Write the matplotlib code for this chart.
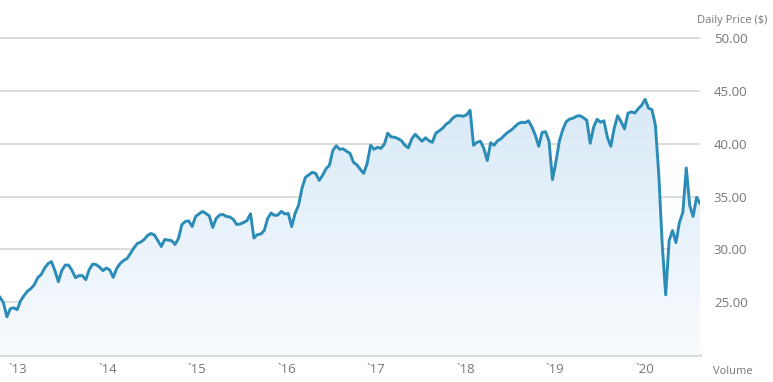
import numpy as np
import pandas as pd
import matplotlib
matplotlib.use("Agg")
import matplotlib.pyplot as plt
import matplotlib.dates as mdates
from matplotlib.ticker import FuncFormatter, FixedLocator
from matplotlib.colors import LinearSegmentedColormap

# biweekly closing prices
start_date = "2012-10-19"
freq = "14D"
prices = [
    25.46, 24.95, 23.62, 24.38, 24.47, 24.29, 25.14, 25.62, 26.04, 26.28,
    26.66, 27.32, 27.61, 28.23, 28.65, 28.84, 27.99, 26.94, 27.99, 28.51,
    28.51, 27.99, 27.32, 27.51, 27.51, 27.13, 28.08, 28.61, 28.56, 28.32,
    27.99, 28.23, 28.04, 27.35, 28.18, 28.65, 28.94, 29.13, 29.60, 30.12,
    30.55, 30.69, 30.93, 31.31, 31.50, 31.36, 30.83, 30.27, 30.93, 30.88,
    30.83, 30.46, 31.02, 32.35, 32.64, 32.69, 32.16, 33.11, 33.35, 33.59,
    33.40, 33.16, 32.07, 32.92, 33.25, 33.30, 33.11, 33.06, 32.83, 32.35,
    32.40, 32.54, 32.73, 33.37, 31.07, 31.40, 31.45, 31.78, 32.92, 33.44,
    33.21, 33.25, 33.59, 33.35, 33.40, 32.16, 33.40, 34.16, 35.77, 36.81,
    37.05, 37.29, 37.19, 36.53, 37.00, 37.62, 37.95, 39.37, 39.80, 39.47,
    39.52, 39.28, 39.09, 38.24, 38.00, 37.57, 37.19, 38.14, 39.85, 39.47,
    39.66, 39.56, 39.94, 41.00, 40.64, 40.61, 40.48, 40.28, 39.85, 39.61,
    40.46, 40.89, 40.56, 40.23, 40.56, 40.28, 40.13, 40.99, 41.22, 41.46,
    41.84, 42.06, 42.44, 42.65, 42.65, 42.60, 42.74, 43.17, 39.85, 40.13,
    40.23, 39.56, 38.40, 40.09, 39.85, 40.28, 40.46, 40.80, 41.08, 41.29,
    41.60, 41.90, 42.03, 41.98, 42.17, 41.60, 40.80, 39.75, 41.08, 41.13,
    40.23, 36.60, 38.24, 40.23, 41.32, 42.08, 42.33, 42.41, 42.60, 42.65,
    42.46, 42.22, 40.04, 41.56, 42.31, 42.03, 42.17, 40.61, 39.75, 41.46,
    42.65, 42.08, 41.40, 42.88, 43.01, 42.90, 43.31, 43.64, 44.20, 43.36,
    43.22, 41.75, 37.00, 30.40, 25.70, 30.83, 31.78, 30.64, 32.54, 33.49,
    37.70, 34.16, 33.11, 34.92, 34.35,
]
dates = pd.date_range(start_date, periods=len(prices), freq=freq)
price_ticks = [25, 30, 35, 40, 45, 50]
y_min, y_max = 20, 53.6

line_color = "#2b8cb8"
grid_color = "#d9d9d9"
text_color = "#777777"

plt.rcParams["font.family"] = ["Open Sans", "DejaVu Sans"]

fig = plt.figure(figsize=(7.73, 3.82), dpi=100)
ax = fig.add_axes([0, 27 / 382, 700 / 773, 355 / 382])

x = mdates.date2num(dates)
y = np.array(prices)

# gradient fill under the line
poly = ax.fill_between(x, y, y_min, color="none", lw=0)
cmap = LinearSegmentedColormap.from_list("fill", ["#f8fbfe", "#d8e9f6"])
grad = np.linspace(0, 1, 256).reshape(-1, 1)
img = ax.imshow(grad, cmap=cmap, aspect="auto", origin="lower",
                extent=[x[0], x[-1], y_min, 44.5], zorder=1)
img.set_clip_path(poly.get_paths()[0], transform=ax.transData)

ax.plot(x, y, color=line_color, lw=2.1, zorder=3, solid_joinstyle="round")

ax.set_xlim(x[0], x[-1])
ax.set_ylim(y_min, y_max)

for v in price_ticks:
    ax.axhline(v, color=grid_color, lw=1.3, zorder=0)
ax.axhline(y_min, color=grid_color, lw=2.0, zorder=0, clip_on=False)

for s in ax.spines.values():
    s.set_visible(False)

ax.yaxis.tick_right()
ax.yaxis.set_major_locator(FixedLocator(price_ticks))
ax.yaxis.set_major_formatter(FuncFormatter(lambda v, p: f"{v:.2f}"))
ax.tick_params(axis="y", length=0, pad=10, labelsize=9.5, labelcolor=text_color)

ax.xaxis.set_major_locator(mdates.YearLocator())
ax.xaxis.set_major_formatter(FuncFormatter(lambda v, p: "`" + mdates.num2date(v).strftime("%y")))
ax.tick_params(axis="x", length=0, pad=6, labelsize=9.5, labelcolor=text_color)

fig.text(767 / 773, 1 - 20 / 382, "Daily Price ($)", ha="right", va="center",
         fontsize=8, color=text_color)
fig.text(733 / 773, 1 - 371 / 382, "Volume", ha="center", va="center",
         fontsize=8, color=text_color)

fig.savefig("out.png", dpi=100, facecolor="white")
